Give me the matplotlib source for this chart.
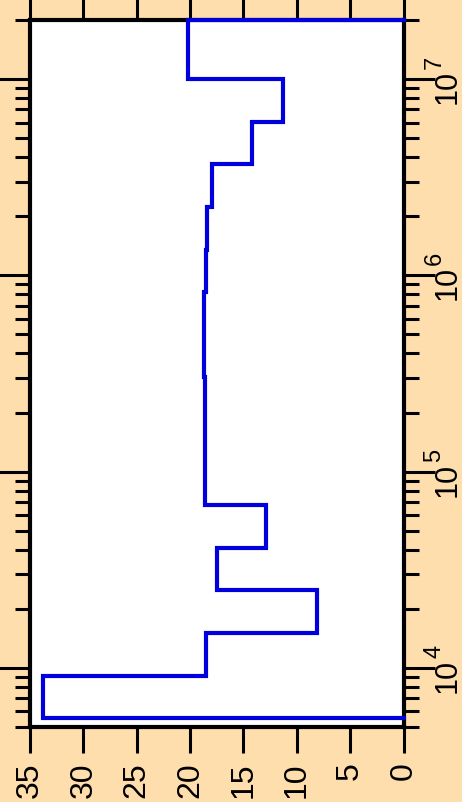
import matplotlib
matplotlib.use("Agg")
import matplotlib.pyplot as plt
import numpy as np
from matplotlib.ticker import LogLocator, NullFormatter

# bin edges (log spaced) and counts per bin
bin_edges = [5.53e3, 9.12e3, 1.50e4, 2.48e4, 4.09e4, 6.74e4, 1.11e5, 1.83e5,
             3.02e5, 4.98e5, 8.21e5, 1.35e6, 2.23e6, 3.68e6, 6.07e6, 1.0e7, 2.0e7]
bin_values = [33.8, 18.5, 8.1, 17.5, 12.9, 18.6, 18.6, 18.6,
              18.65, 18.7, 18.55, 18.4, 17.95, 14.2, 11.3, 20.2]
x_ticks = [0, 5, 10, 15, 20, 25, 30, 35]
decades = [4, 5, 6, 7]

plt.rcParams.update({
    'font.family': ['Liberation Sans', 'DejaVu Sans'],
})

bg = '#FFDEAD'
fig = plt.figure(figsize=(4.62, 8.03), dpi=100, facecolor=bg)
ax = fig.add_axes([30 / 462, 1 - 728 / 803, 373.5 / 462, 707 / 803])
ax.set_facecolor('white')

# histogram outline, drawn sideways
xs = [0]
ys = [bin_edges[0]]
for i, v in enumerate(bin_values):
    xs += [v, v]
    ys += [bin_edges[i], bin_edges[i + 1]]
xs.append(0)
ys.append(bin_edges[-1])
ax.plot(xs, ys, color='#0000DD', lw=3.0, solid_joinstyle='miter', clip_on=False, zorder=5)

ax.set_yscale('log')
ax.set_xlim(35, 0)
ax.set_ylim(5e3, 2e7)

ax.set_xticks(x_ticks)
ax.yaxis.set_major_locator(LogLocator(base=10))
ax.yaxis.set_minor_locator(LogLocator(base=10, subs=np.arange(2, 10)))
ax.yaxis.set_major_formatter(NullFormatter())
ax.yaxis.set_minor_formatter(NullFormatter())

for s in ax.spines.values():
    s.set_linewidth(3)

ax.tick_params(axis='both', which='major', direction='out', width=2.2,
               labelsize=23, top=True, right=True, left=True, bottom=True,
               labelleft=False, labelright=False, labeltop=False, labelbottom=True)
ax.tick_params(axis='x', which='major', length=19, pad=6, labelrotation=90)
ax.tick_params(axis='y', which='major', length=22)
ax.tick_params(axis='y', which='minor', direction='out', length=11, width=2.2,
               left=True, right=True)

# right-hand decade labels, 10 with a raised exponent, rotated like the rest
px = 72 / fig.dpi
for d in decades:
    ax.annotate('10', xy=(1, 10.0 ** d), xycoords=('axes fraction', 'data'),
                xytext=(52 * px, -7 * px), textcoords='offset points',
                rotation=90, rotation_mode='anchor', ha='center', va='baseline',
                fontsize=22, annotation_clip=False)
    ax.annotate(str(d), xy=(1, 10.0 ** d), xycoords=('axes fraction', 'data'),
                xytext=(37 * px, 11 * px), textcoords='offset points',
                rotation=90, rotation_mode='anchor', ha='left', va='baseline',
                fontsize=17, annotation_clip=False)

fig.savefig('out.png', dpi=100, facecolor=bg)
